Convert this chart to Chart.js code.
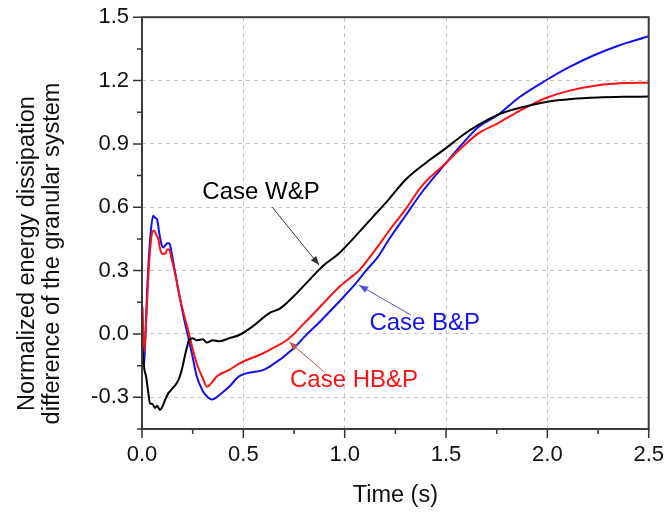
<!DOCTYPE html>
<html>
<head>
<meta charset="utf-8">
<script src="https://cdn.jsdelivr.net/npm/chart.js@4.4.0/dist/chart.umd.min.js"></script>
<style>
  html, body { margin: 0; padding: 0; background: #fff; }
  #wrap { width: 668px; height: 513px; }
</style>
</head>
<body>
<div id="wrap"><canvas id="chart"></canvas></div>
<script>
// Case W&P (black)
const timeWP = [0, 0.005, 0.012, 0.02, 0.03, 0.04, 0.05, 0.064, 0.075, 0.088, 0.1, 0.115, 0.13, 0.14, 0.152, 0.17, 0.187, 0.2, 0.21, 0.22, 0.232, 0.25, 0.27, 0.3, 0.32, 0.35, 0.38, 0.43, 0.48, 0.545, 0.63, 0.68, 0.75, 0.82, 0.89, 0.97, 1.05, 1.135, 1.22, 1.3, 1.4, 1.5, 1.58, 1.66, 1.76, 1.86, 2.0, 2.12, 2.25, 2.38, 2.5];
const valWP = [-0.05, -0.1, -0.17, -0.2, -0.27, -0.33, -0.33, -0.35, -0.34, -0.36, -0.345, -0.31, -0.28, -0.27, -0.255, -0.235, -0.2, -0.155, -0.11, -0.07, -0.03, -0.02, -0.03, -0.025, -0.04, -0.03, -0.035, -0.02, -0.005, 0.035, 0.1, 0.12, 0.18, 0.25, 0.32, 0.38, 0.46, 0.55, 0.64, 0.73, 0.81, 0.88, 0.94, 0.99, 1.04, 1.07, 1.1, 1.113, 1.12, 1.123, 1.124];

// Case HB&P (red)
const timeHBP = [0, 0.003, 0.006, 0.012, 0.02, 0.03, 0.04, 0.05, 0.06, 0.07, 0.08, 0.09, 0.1, 0.115, 0.125, 0.135, 0.145, 0.16, 0.187, 0.21, 0.227, 0.25, 0.27, 0.3, 0.32, 0.34, 0.37, 0.43, 0.48, 0.6, 0.63, 0.72, 0.8, 0.88, 0.97, 1.02, 1.07, 1.16, 1.22, 1.3, 1.38, 1.5, 1.58, 1.66, 1.76, 1.86, 1.93, 2.0, 2.1, 2.25, 2.38, 2.5];
const valHBP = [0.13, 0.12, 0.0, -0.08, 0.05, 0.25, 0.4, 0.48, 0.49, 0.47, 0.45, 0.4, 0.38, 0.38, 0.4, 0.4, 0.36, 0.3, 0.17, 0.08, 0.02, -0.07, -0.14, -0.21, -0.25, -0.235, -0.2, -0.17, -0.14, -0.09, -0.075, -0.025, 0.05, 0.13, 0.22, 0.26, 0.3, 0.41, 0.49, 0.59, 0.7, 0.81, 0.885, 0.95, 1.0, 1.055, 1.09, 1.12, 1.15, 1.178, 1.188, 1.19];

// Case B&P (blue)
const timeBP = [0, 0.004, 0.01, 0.015, 0.025, 0.035, 0.045, 0.055, 0.065, 0.075, 0.085, 0.095, 0.105, 0.115, 0.125, 0.135, 0.145, 0.16, 0.187, 0.21, 0.227, 0.25, 0.27, 0.3, 0.325, 0.345, 0.36, 0.38, 0.43, 0.48, 0.6, 0.63, 0.75, 0.8, 0.88, 0.97, 1.06, 1.105, 1.16, 1.22, 1.3, 1.38, 1.5, 1.58, 1.66, 1.76, 1.86, 2.0, 2.1, 2.23, 2.35, 2.5];
const valBP = [0.0, -0.1, -0.15, -0.05, 0.2, 0.38, 0.5, 0.56, 0.55, 0.54, 0.48, 0.43, 0.41, 0.42, 0.43, 0.43, 0.39, 0.31, 0.17, 0.06, -0.01, -0.11, -0.2, -0.27, -0.3, -0.31, -0.305, -0.29, -0.25, -0.2, -0.17, -0.155, -0.066, -0.015, 0.06, 0.15, 0.245, 0.3, 0.36, 0.45, 0.56, 0.67, 0.81, 0.9, 0.98, 1.04, 1.12, 1.205, 1.26, 1.32, 1.365, 1.41];

const seriesNames = ['Case W&P', 'Case HB&P', 'Case B&P'];
const seriesColors = ['#000000', '#ff1010', '#1010f0'];

const yTitle = ['Normalized energy dissipation', 'difference of the granular system'];

const FONT = 'Liberation Sans, Arial, sans-serif';

// annotation labels and arrows, placed in data units
const notes = [
  { text: 'Case W&P', color: '#000000', arrow: '#333333', at: [0.587, 0.67], from: [0.643, 0.60], to: [0.874, 0.326] },
  { text: 'Case B&P', color: '#1010f0', arrow: '#5050d0', at: [1.395, 0.052], from: [1.326, 0.09], to: [1.071, 0.231] },
  { text: 'Case HB&P', color: '#ff1010', arrow: '#c05050', at: [1.046, -0.222], from: [0.899, -0.18], to: [0.727, -0.038] }
];

const pts = (ts, vs) => ts.map((t, i) => ({ x: t, y: vs[i] }));

const isMajor = (v, step) => Math.abs(v / step - Math.round(v / step)) < 1e-6;

const framePlugin = {
  id: 'frame',
  afterDraw(chart) {
    const ctx = chart.ctx;
    const a = chart.chartArea;
    const xs = chart.scales.x;
    const ys = chart.scales.y;
    ctx.save();

    // tick marks, outside
    ctx.strokeStyle = '#333';
    ctx.lineWidth = 1.5;
    ctx.beginPath();
    xs.ticks.forEach(t => {
      const px = xs.getPixelForValue(t.value);
      const len = isMajor(t.value, 0.5) ? 9 : 5;
      ctx.moveTo(px, a.bottom);
      ctx.lineTo(px, a.bottom + len);
    });
    ys.ticks.forEach(t => {
      const py = ys.getPixelForValue(t.value);
      const len = isMajor(t.value, 0.3) ? 9 : 5;
      ctx.moveTo(a.left, py);
      ctx.lineTo(a.left - len, py);
    });
    ctx.stroke();

    // box
    ctx.lineWidth = 2;
    ctx.strokeStyle = '#3a3a3a';
    ctx.strokeRect(a.left, a.top, a.right - a.left, a.bottom - a.top);

    // y axis title, two lines, centred on the canvas height
    ctx.save();
    ctx.translate(28, chart.height / 2 - 3);
    ctx.rotate(-Math.PI / 2);
    ctx.fillStyle = '#111';
    ctx.font = '23.5px ' + FONT;
    ctx.textAlign = 'center';
    ctx.textBaseline = 'middle';
    yTitle.forEach((line, i) => ctx.fillText(line, 0, i * 25));
    ctx.restore();

    // annotations
    ctx.font = '24px ' + FONT;
    ctx.textAlign = 'center';
    ctx.textBaseline = 'middle';
    notes.forEach(n => {
      const x1 = xs.getPixelForValue(n.from[0]), y1 = ys.getPixelForValue(n.from[1]);
      const x2 = xs.getPixelForValue(n.to[0]), y2 = ys.getPixelForValue(n.to[1]);
      ctx.strokeStyle = n.arrow;
      ctx.fillStyle = n.arrow;
      ctx.lineWidth = 1;
      ctx.beginPath();
      ctx.moveTo(x1, y1);
      ctx.lineTo(x2, y2);
      ctx.stroke();
      const ang = Math.atan2(y2 - y1, x2 - x1);
      const hl = 9, hw = 3.5;
      ctx.beginPath();
      ctx.moveTo(x2, y2);
      ctx.lineTo(x2 - hl * Math.cos(ang) + hw * Math.sin(ang), y2 - hl * Math.sin(ang) - hw * Math.cos(ang));
      ctx.lineTo(x2 - hl * Math.cos(ang) - hw * Math.sin(ang), y2 - hl * Math.sin(ang) + hw * Math.cos(ang));
      ctx.closePath();
      ctx.fill();
      ctx.fillStyle = n.color;
      ctx.fillText(n.text, xs.getPixelForValue(n.at[0]), ys.getPixelForValue(n.at[1]));
    });
    ctx.restore();
  }
};

const gridColor = (step) => (c) => {
  if (c.tick && isMajor(c.tick.value, step)) return '#c4c4c4';
  return 'rgba(0,0,0,0)';
};

new Chart(document.getElementById('chart'), {
  type: 'line',
  data: {
    datasets: [
      { label: seriesNames[0], data: pts(timeWP, valWP), borderColor: seriesColors[0] },
      { label: seriesNames[1], data: pts(timeHBP, valHBP), borderColor: seriesColors[1] },
      { label: seriesNames[2], data: pts(timeBP, valBP), borderColor: seriesColors[2] }
    ]
  },
  options: {
    responsive: true,
    maintainAspectRatio: false,
    animation: false,
    events: [],
    layout: { padding: { top: 15, right: 17, left: 0, bottom: 0 } },
    elements: {
      point: { radius: 0 },
      line: { borderWidth: 2, cubicInterpolationMode: 'monotone', fill: false }
    },
    plugins: {
      legend: { display: false },
      tooltip: { enabled: false }
    },
    scales: {
      x: {
        type: 'linear',
        min: 0,
        max: 2.5,
        afterFit: s => { s.height = 84; },
        afterBuildTicks: s => {
          s.ticks = [];
          for (let i = 0; i <= 10; i++) s.ticks.push({ value: Math.round(i * 0.25 * 100) / 100 });
        },
        border: { display: false, dash: [4, 4] },
        grid: {
          color: gridColor(0.5),
          lineWidth: 1,
          tickLength: 9,
          tickColor: 'rgba(0,0,0,0)'
        },
        ticks: {
          padding: 4,
          autoSkip: false,
          maxRotation: 0,
          color: '#111',
          font: { family: FONT, size: 22 },
          callback: v => isMajor(v, 0.5) ? v.toFixed(1) : ''
        },
        title: {
          display: true,
          text: 'Time (s)',
          color: '#111',
          font: { family: FONT, size: 23.5, lineHeight: 1.2 },
          padding: { top: 0, bottom: 3 }
        }
      },
      y: {
        type: 'linear',
        min: -0.45,
        max: 1.5,
        afterFit: s => { s.width = 142; },
        afterBuildTicks: s => {
          s.ticks = [];
          for (let i = 0; i <= 13; i++) s.ticks.push({ value: Math.round((-0.45 + i * 0.15) * 100) / 100 });
        },
        border: { display: false, dash: [4, 4] },
        grid: {
          color: gridColor(0.3),
          lineWidth: 1,
          tickLength: 9,
          tickColor: 'rgba(0,0,0,0)'
        },
        ticks: {
          padding: 4,
          autoSkip: false,
          color: '#111',
          font: { family: FONT, size: 22 },
          callback: v => isMajor(v, 0.3) ? v.toFixed(1) : ''
        },
        title: { display: false }
      }
    }
  },
  plugins: [framePlugin]
});
</script>
</body>
</html>
